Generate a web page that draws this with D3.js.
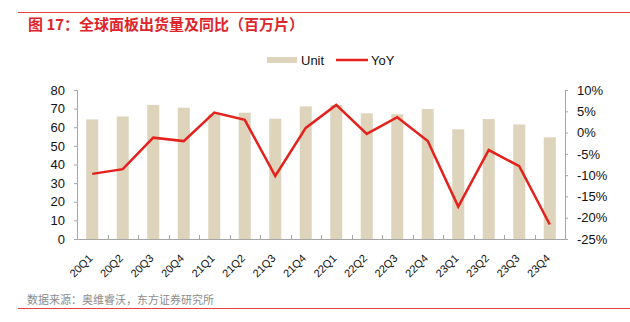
<!DOCTYPE html>
<html><head><meta charset="utf-8">
<script src="https://cdn.jsdelivr.net/npm/d3@7"></script>
<style>
body{margin:0;background:#fff;}
svg{display:block;font-family:"Liberation Sans",Arial,sans-serif;}
</style></head>
<body><svg id="c" width="630" height="322"></svg>
<script>
const categories = ["20Q1","20Q2","20Q3","20Q4","21Q1","21Q2","21Q3","21Q4","22Q1","22Q2","22Q3","22Q4","23Q1","23Q2","23Q3","23Q4"];
const unitValues = [64.2, 65.8, 72.0, 70.5, 67.0, 67.8, 64.6, 71.2, 72.0, 67.5, 67.0, 69.8, 58.9, 64.4, 61.5, 54.6];
const yoyValues = [-9.7, -8.6, -1.2, -2.0, 4.7, 3.0, -10.2, 1.1, 6.5, -0.3, 3.6, -2.0, -17.4, -4.1, -7.9, -21.6];
const leftTicks = [0,10,20,30,40,50,60,70,80];
const rightTicks = [10,5,0,-5,-10,-15,-20,-25];
const titleText = "图 17：全球面板出货量及同比（百万片）";
const sourceText = "数据来源：奥维睿沃，东方证券研究所";
const legendLabels = ["Unit","YoY"];

const svg = d3.select("#c");
const L = 77, R = 565, T = 90, B = 239;
const barColor = "#ded4bc", lineColor = "#e4211c", axisColor = "#a6a6a6";

// frame lines
svg.append("line").attr("x1",18).attr("x2",630).attr("y1",12.5).attr("y2",12.5).attr("stroke","#e8403d").attr("stroke-width",1);
svg.append("line").attr("x1",18).attr("x2",630).attr("y1",308.5).attr("y2",308.5).attr("stroke","#e8403d").attr("stroke-width",1);

svg.append("text").attr("x",28).attr("y",30).text(titleText)
  .attr("fill","#e0242b").attr("font-size",15).attr("font-weight","bold")
  .attr("font-family","'Noto Sans CJK SC',sans-serif");
svg.append("text").attr("x",27).attr("y",304).text(sourceText)
  .attr("fill","#8c8c8c").attr("font-size",11)
  .attr("font-family","'Noto Sans CJK SC',sans-serif");

const xb = d3.scaleBand().domain(categories).range([L,R]);
const yL = d3.scaleLinear().domain([0,80]).range([B,T]);
const yR = d3.scaleLinear().domain([-25,10]).range([B,T]);

// bars
svg.append("g").selectAll("rect").data(categories).join("rect")
  .attr("x",(d)=>xb(d)+xb.bandwidth()/2-6)
  .attr("width",12)
  .attr("y",(d,i)=>yL(unitValues[i]))
  .attr("height",(d,i)=>B-yL(unitValues[i]))
  .attr("fill",barColor);

// left axis
const gl = svg.append("g").attr("transform",`translate(${L},0)`)
  .call(d3.axisLeft(yL).tickValues(leftTicks).tickSize(3).tickPadding(9));
// right axis
const gr = svg.append("g").attr("transform",`translate(${R},0)`)
  .call(d3.axisRight(yR).tickValues(rightTicks).tickSize(3).tickPadding(9).tickFormat(d=>d+"%"));
// bottom axis
const gb = svg.append("g").attr("transform",`translate(0,${B})`)
  .call(d3.axisBottom(xb).tickSize(0).tickPadding(0));
[gl,gr,gb].forEach(g=>{
  g.select(".domain").attr("stroke",axisColor);
  g.selectAll(".tick line").attr("stroke",axisColor);
  g.selectAll("text").attr("font-size",13).attr("fill","#111").attr("font-family","'Liberation Sans',Arial,sans-serif");
});
// category separator ticks (upward, inside)
svg.append("g").selectAll("line").data(categories.slice(1)).join("line")
  .attr("x1",d=>Math.round(xb(d))+0.5).attr("x2",d=>Math.round(xb(d))+0.5)
  .attr("y1",B).attr("y2",B-4).attr("stroke",axisColor);
gb.selectAll(".tick text")
  .attr("text-anchor","end")
  .attr("font-size",11)
  .attr("transform","translate(1,20) rotate(-45)")
  .attr("dy","0").attr("y",0);

// line
const line = d3.line().x((d,i)=>xb(categories[i])+xb.bandwidth()/2).y(d=>yR(d));
svg.append("path").datum(yoyValues).attr("d",line)
  .attr("fill","none").attr("stroke",lineColor).attr("stroke-width",2.5).attr("stroke-linejoin","miter");

// legend
const lg = svg.append("g");
lg.append("rect").attr("x",267).attr("y",57).attr("width",30).attr("height",6).attr("fill",barColor);
lg.append("text").attr("x",301).attr("y",65).text(legendLabels[0]).attr("font-size",13).attr("fill","#111");
lg.append("line").attr("x1",336).attr("x2",368).attr("y1",60).attr("y2",60).attr("stroke",lineColor).attr("stroke-width",2.5);
lg.append("text").attr("x",371).attr("y",65).text(legendLabels[1]).attr("font-size",13).attr("fill","#111");
</script></body></html>
